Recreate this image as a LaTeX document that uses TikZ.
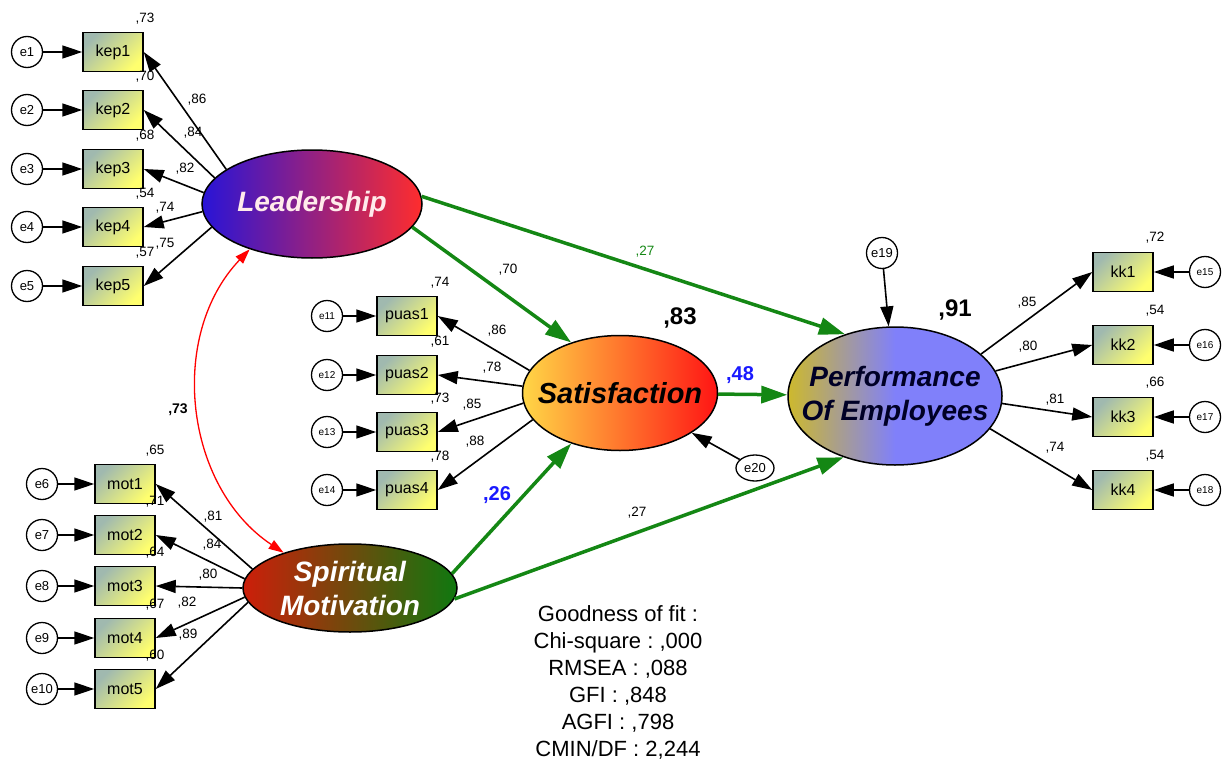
\documentclass[tikz,border=0pt]{standalone}
\usepackage{fontspec}
\setmainfont{Liberation Sans}
\usetikzlibrary{arrows.meta,shapes.geometric}
\frenchspacing

\definecolor{leadblue}{RGB}{40,20,215}
\definecolor{leadred}{RGB}{255,45,45}
\definecolor{satyellow}{RGB}{255,215,70}
\definecolor{satred}{RGB}{255,20,20}
\definecolor{perfolive}{RGB}{205,185,45}
\definecolor{perfblue}{RGB}{128,128,250}
\definecolor{spirred}{RGB}{205,30,10}
\definecolor{spirgreen}{RGB}{15,120,15}
\definecolor{boxgray}{RGB}{160,185,175}
\definecolor{boxyellow}{RGB}{255,255,110}
\definecolor{pathgreen}{RGB}{20,135,20}
\definecolor{estblue}{RGB}{25,25,255}

\begin{document}
\begin{tikzpicture}[x=1pt,y=-1pt,
    err/.style={circle,draw,line width=1.3pt,fill=white,inner sep=0pt,minimum size=31pt,font=\fontsize{13}{13}\selectfont},
    errs/.style={err,font=\fontsize{10}{10}\selectfont},
    ind/.style={draw,line width=1.5pt,minimum width=60pt,minimum height=39pt,left color=boxgray,right color=boxyellow,shading angle=45,font=\fontsize{16}{16}\selectfont},
    lat/.style={ellipse,draw,line width=1.5pt,inner sep=0pt},
    lattext/.style={font=\fontsize{28}{34}\selectfont\bfseries\itshape,align=center},
    num/.style={inner sep=0pt,font=\fontsize{13.5}{13.5}\selectfont},
    bignum/.style={inner sep=0pt,font=\fontsize{24}{24}\selectfont\bfseries},
    estnum/.style={inner sep=0pt,text=estblue,font=\fontsize{20}{20}\selectfont\bfseries},
    load/.style={-{Triangle[length=20pt,width=13pt]},line width=1.6pt},
    causal/.style={-{Triangle[length=26pt,width=17pt]},line width=3.5pt,pathgreen},
    covar/.style={{Triangle[length=15pt,width=10pt]}-{Triangle[length=15pt,width=10pt]},line width=1.3pt,red}]
\useasboundingbox (0,0) rectangle (1229,760);

\node[lat,left color=leadblue,right color=leadred,minimum width=220pt,minimum height=108pt,
  label={[lattext,text=white!92!red]center:Leadership}] (lead) at (312,204) {};
\node[lat,left color=spirred,right color=spirgreen,minimum width=214pt,minimum height=88pt,
  label={[lattext,text=white]center:{Spiritual\\Motivation}}] (spir) at (350,588) {};
\node[lat,left color=satyellow,right color=satred,minimum width=195pt,minimum height=115pt,
  label={[lattext,text=black,font=\fontsize{29}{34}\selectfont\bfseries\itshape]center:Satisfaction}] (sat) at (620,393) {};
\node[lat,left color=perfolive,right color=perfblue,middle color=perfblue,minimum width=214pt,minimum height=138pt,
  label={[lattext,text=black!85!blue]center:{Performance\\Of Employees}}] (perf) at (895,396) {};

\foreach \n/\yy/\sq/\ld/\lx/\ly/\ang in {1/52/73/86/197/100/158,2/110/70/84/193/133/165,3/169/68/82/185/169/174,4/227/54/74/165/208/184,5/286/57/75/165/244/193}{
  \node[err] (e\n) at (27,\yy) {e\n};
  \node[ind] (kep\n) at (113,\yy) {kep\n};
  \node[num] (rkep\n) at (145,\yy-33) {,\sq};
  \node[num] (lkep\n) at (\lx,\ly) {,\ld};
  \draw[load] (e\n) -- (kep\n);
  \draw[load] (lead.\ang) -- (kep\n.east);
}

\foreach \n/\k/\yy/\sq/\ld/\lx/\ly/\ang in {1/6/484/65/81/213/517/169,2/7/535/71/84/212/545/175,3/8/586/64/80/208/575/180,4/9/638/67/82/187/603/185,5/10/689/60/89/188/635/188}{
  \node[err] (e\k) at (42,\yy) {e\k};
  \node[ind] (mot\n) at (125,\yy) {mot\n};
  \node[num] (rmot\n) at (155,\yy-33) {,\sq};
  \node[num] (lmot\n) at (\lx,\ly) {,\ld};
  \draw[load] (e\k) -- (mot\n);
  \draw[load] (spir.\ang) -- (mot\n.east);
}

\foreach \n/\k/\yy/\sq/\ld/\lx/\ly/\ang in {1/11/316/74/86/497/331/166,2/12/375/61/78/492/368/176,3/13/432/73/85/472/405/186,4/14/490/78/88/475/442/197}{
  \node[errs] (e\k) at (327,\yy) {e\k};
  \node[ind] (puas\n) at (407,\yy) {puas\n};
  \node[num] (rpuas\n) at (440,\yy-33) {,\sq};
  \node[num] (lpuas\n) at (\lx,\ly) {,\ld};
  \draw[load] (e\k) -- (puas\n);
  \draw[load] (sat.\ang) -- (puas\n.east);
}

\foreach \n/\k/\yy/\sq/\ld/\lx/\ly/\ang in {1/15/272/72/85/1027/303/26,2/16/345/54/80/1028/347/14,3/17/417/66/81/1055/400/356,4/18/490/54/74/1055/448/341}{
  \node[errs] (e\k) at (1205,\yy) {e\k};
  \node[ind] (kk\n) at (1123,\yy) {kk\n};
  \node[num] (rkk\n) at (1155,\yy-34) {,\sq};
  \node[num] (lkk\n) at (\lx,\ly) {,\ld};
  \draw[load] (e\k) -- (kk\n);
  \draw[load] (perf.\ang) -- (kk\n.west);
}

\node[err] (e19) at (882,253) {e19};
\node[err,ellipse,minimum width=38pt,minimum height=26pt] (e20) at (755,468) {e20};
\draw[load] (e19) -- (perf);
\draw[load] (e20) -- (sat);

\draw[causal] (lead.4) -- (perf.129);
\draw[causal] (lead.347) -- (sat.134);
\draw[causal] (sat) -- (perf);
\draw[causal] (spir.8) -- (sat.226);
\draw[causal] (spir.354) -- (perf.230);
\draw[covar] (lead.216) to[bend right=50] (spir.152);

\node[num,text=pathgreen] (blp) at (645,252) {,27};
\node[num] (bls) at (508,270) {,70};
\node[num] (bmp) at (637,513) {,27};
\node[estnum] (bsp) at (740,375) {,48};
\node[estnum] (bms) at (497,495) {,26};
\node[num,font=\fontsize{14}{14}\selectfont\bfseries] (clm) at (178,410) {,73};
\node[bignum] (rsat) at (680,318) {,83};
\node[bignum] (rperf) at (955,310) {,91};

\node[align=center,font=\fontsize{22}{27}\selectfont] (gof) at (618,682)
  {Goodness of fit :\\Chi-square : ,000\\RMSEA : ,088\\GFI : ,848\\AGFI : ,798\\CMIN/DF : 2,244};
\end{tikzpicture}
\end{document}
